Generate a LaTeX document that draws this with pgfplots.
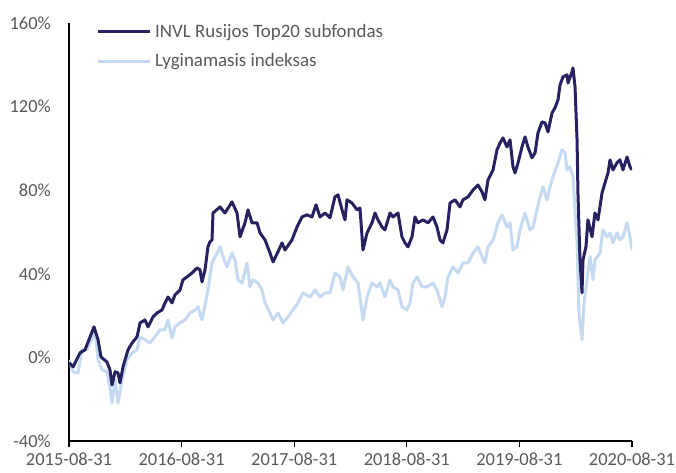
\documentclass[border=0pt]{standalone}
\usepackage{fontspec}
\setmainfont{Carlito}
\usepackage{pgfplots}
\pgfplotsset{compat=1.18}
\definecolor{fund}{RGB}{38,34,96}
\definecolor{idx}{RGB}{197,217,241}
\definecolor{txt}{RGB}{89,89,89}
\begin{document}
\begin{tikzpicture}
\begin{axis}[
  at={(0,0)}, anchor=south west,
  scale only axis, width=563bp, height=418bp,
  xmin=0, xmax=5, ymin=-40, ymax=160,
  axis x line=bottom, axis y line=left,
  axis line style={-, black, line width=1.3bp},
  xtick={0,1,2,3,4,5},
  xticklabels={2015-08-31,2016-08-31,2017-08-31,2018-08-31,2019-08-31,2020-08-31},
  ytick={-40,0,40,80,120,160},
  yticklabels={-40\%,0\%,40\%,80\%,120\%,160\%},
  tick align=outside, major tick length=6bp,
  xtick style={black, line width=1.3bp},
  ytick style={draw=none},
  ticklabel style={font=\fontsize{18.5}{20}\selectfont, text=txt, inner sep=0pt},
  yticklabel style={xshift=-12bp},
  xticklabel style={yshift=-6bp},
  legend style={draw=none, fill=none, at={(rel axis cs:0,1)}, anchor=north west,
    xshift=27bp, yshift=-1bp, inner sep=0pt, row sep=15bp,
    nodes={inner sep=0pt, font=\fontsize{19}{21}\selectfont, text=txt},
    /tikz/every odd column/.style={column sep=4bp}},
  legend cell align=left,
  legend image code/.code={\draw[#1] (0bp,0bp) -- (52bp,0bp);},
]
\addplot[idx, line width=3bp, line join=round, forget plot] coordinates {
(0,-1.2)(0.036,-6.9)(0.080,-7.4)(0.115,3.6)(0.160,3.6)(0.204,8.4)(0.231,13.2)(0.258,-1.2)
(0.293,-6.0)(0.337,-6.9)(0.364,-14.1)(0.382,-21.8)(0.409,-10.8)(0.435,-21.8)(0.471,-10.8)
(0.515,-1.2)(0.560,2.2)(0.604,3.6)(0.631,9.8)(0.675,8.4)(0.719,6.9)(0.764,9.8)(0.808,13.2)
(0.853,13.2)(0.879,17.9)(0.915,9.3)(0.941,14.6)(0.986,16.5)(1.030,17.9)(1.075,21.3)
(1.119,22.7)(1.146,24.2)(1.181,17.9)(1.208,25.1)(1.234,32.3)(1.270,45.2)(1.297,48.1)
(1.341,52.9)(1.368,48.1)(1.403,43.3)(1.448,50.0)(1.474,46.7)(1.501,37.1)(1.536,35.6)
(1.581,45.2)(1.607,33.7)(1.634,37.1)(1.678,35.6)(1.714,32.3)(1.741,26.1)(1.785,21.3)
(1.812,17.9)(1.856,21.3)(1.901,16.5)(1.945,19.4)(1.989,22.7)(2.034,26.1)(2.078,30.9)
(2.140,28.9)(2.185,32.3)(2.229,28.9)(2.274,30.9)(2.318,30.9)(2.362,40.4)(2.407,38.5)
(2.433,32.3)(2.478,43.3)(2.522,38.5)(2.567,35.6)(2.611,17.9)(2.647,28.9)(2.691,35.6)
(2.735,33.7)(2.762,35.6)(2.806,28.9)(2.851,37.1)(2.877,33.7)(2.922,32.3)(2.957,24.2)
(3.002,22.7)(3.028,26.1)(3.055,35.6)(3.091,38.5)(3.135,33.7)(3.179,33.7)(3.233,35.6)
(3.268,32.3)(3.313,24.2)(3.339,28.9)(3.366,38.5)(3.410,43.3)(3.455,40.4)(3.499,45.2)
(3.544,45.2)(3.588,50.0)(3.632,52.9)(3.668,48.1)(3.694,45.2)(3.721,52.9)(3.766,56.2)
(3.810,64.4)(3.845,68.2)(3.890,62.4)(3.917,64.4)(3.943,51.4)(3.979,52.9)(4.005,61.0)
(4.050,69.1)(4.094,61.0)(4.121,62.4)(4.156,70.6)(4.183,76.8)(4.210,81.6)(4.245,75.4)
(4.272,81.6)(4.298,86.4)(4.343,93.1)(4.378,99.3)(4.405,97.9)(4.423,89.7)(4.449,91.2)
(4.476,86.4)(4.494,70.6)(4.512,54.8)(4.529,21.3)(4.556,8.4)(4.574,26.1)(4.600,37.1)
(4.627,48.1)(4.654,37.1)(4.671,46.7)(4.716,50.0)(4.742,61.0)(4.778,57.7)(4.805,59.6)
(4.831,54.8)(4.867,59.6)(4.893,56.2)(4.920,57.7)(4.956,64.4)(4.982,57.7)(5.000,51.4)
};
\addplot[fund, line width=3bp, line join=round] coordinates {
(0,-2.6)(0.036,-4.5)(0.098,2.2)(0.142,3.6)(0.187,9.8)(0.222,14.6)(0.258,8.4)(0.284,0.2)
(0.337,-2.2)(0.364,-6.0)(0.382,-13.2)(0.409,-6.9)(0.435,-7.4)(0.453,-12.2)(0.480,-4.5)
(0.524,3.6)(0.560,6.9)(0.604,9.8)(0.631,16.5)(0.675,17.9)(0.702,14.6)(0.746,19.4)
(0.782,21.3)(0.826,22.7)(0.853,26.1)(0.879,28.9)(0.915,26.1)(0.941,29.9)(0.986,32.3)
(1.012,37.1)(1.048,38.5)(1.092,40.4)(1.137,42.8)(1.163,41.9)(1.181,36.1)(1.208,41.9)
(1.234,52.9)(1.252,55.3)(1.270,56.2)(1.279,69.1)(1.341,72.0)(1.385,69.1)(1.448,74.4)
(1.492,69.1)(1.519,57.7)(1.563,64.4)(1.590,70.6)(1.625,64.4)(1.670,64.4)(1.696,59.6)
(1.741,56.2)(1.785,50.0)(1.812,45.7)(1.856,50.5)(1.892,54.8)(1.918,51.4)(1.980,56.2)
(2.025,62.4)(2.069,67.2)(2.114,68.2)(2.158,67.2)(2.194,73.0)(2.229,67.2)(2.274,69.1)
(2.318,66.8)(2.362,76.8)(2.389,77.8)(2.425,70.6)(2.451,65.8)(2.469,75.4)(2.513,73.9)
(2.558,70.6)(2.584,71.5)(2.611,51.4)(2.647,59.6)(2.691,64.4)(2.718,69.1)(2.744,65.8)
(2.780,62.4)(2.806,61.0)(2.851,69.1)(2.877,67.2)(2.922,69.1)(2.957,57.7)(2.984,54.8)
(3.011,52.9)(3.046,57.7)(3.073,67.2)(3.099,64.4)(3.144,65.8)(3.188,64.4)(3.233,67.2)
(3.268,62.4)(3.295,56.2)(3.321,54.8)(3.357,61.0)(3.384,73.9)(3.428,75.4)(3.472,72.0)
(3.499,75.4)(3.544,76.8)(3.588,80.1)(3.632,82.5)(3.668,79.2)(3.694,75.4)(3.721,84.9)
(3.766,89.7)(3.801,99.3)(3.828,102.6)(3.854,105.0)(3.890,100.7)(3.917,104.1)(3.943,91.2)
(3.961,88.3)(3.988,93.1)(4.023,100.7)(4.050,105.5)(4.076,100.7)(4.112,95.5)(4.139,97.9)
(4.165,107.4)(4.201,112.7)(4.227,112.2)(4.254,107.9)(4.290,117.0)(4.316,119.4)(4.343,123.2)
(4.361,130.4)(4.387,134.2)(4.423,135.2)(4.432,131.3)(4.467,136.6)(4.476,138.5)(4.494,129.4)
(4.512,104.1)(4.520,78.7)(4.538,46.7)(4.556,30.9)(4.565,46.7)(4.591,52.9)(4.609,65.8)
(4.645,57.7)(4.671,69.1)(4.698,65.8)(4.734,78.7)(4.760,83.5)(4.787,88.3)(4.805,94.5)
(4.831,89.7)(4.867,93.1)(4.893,94.5)(4.920,89.7)(4.956,95.9)(4.982,91.2)(5.000,89.7)
};
\addlegendentry{INVL Rusijos Top20 subfondas}
\addlegendimage{idx, line width=3bp}
\addlegendentry{Lyginamasis indeksas}
\end{axis}
\pgfresetboundingbox
\path (-69bp,-32bp) rectangle (607bp,441bp);
\end{tikzpicture}
\end{document}
